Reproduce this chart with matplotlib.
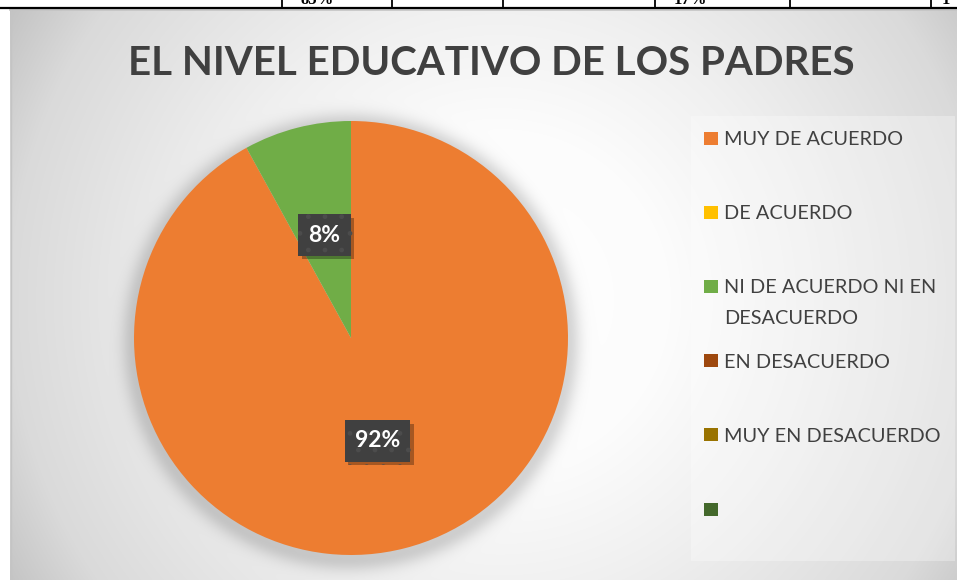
import numpy as np
import matplotlib
matplotlib.use("Agg")
import matplotlib.pyplot as plt
from matplotlib.patches import Rectangle
import matplotlib.patheffects as pe

# ---------------- data ----------------
title = "EL NIVEL EDUCATIVO DE LOS PADRES"
categories = ["MUY DE ACUERDO", "DE ACUERDO", "NI DE ACUERDO NI EN\nDESACUERDO",
              "EN DESACUERDO", "MUY EN DESACUERDO", ""]
values = [92, 0, 8, 0, 0, 0]
colors = ["#ED7D31", "#FFC000", "#70AD47", "#9E480E", "#997300", "#43682B"]
table_fragments = ["85%", "17%", "1"]

# ---------------- figure ----------------
W, H = 957, 580
fig = plt.figure(figsize=(W / 100, H / 100), dpi=100)
fig.patch.set_facecolor("white")

bg = fig.add_axes([0, 0, 1, 1])
bg.set_xlim(0, W)
bg.set_ylim(H, 0)
bg.axis("off")

# chart area background: radial gradient + soft pie shadow
x0, y0 = 10, 9
yy, xx = np.mgrid[y0:H, x0:W] + 0.5
cx, cy = 500, 300
d = np.hypot(xx - cx, yy - cy) / np.hypot(490, 291)
val = np.interp(d, [0, 0.3, 0.52, 0.86, 1.0, 1.3], [255, 252, 240, 218, 195, 190])
pcx, pcy, pr = 351, 338, 217
ds = np.hypot(xx - pcx, yy - (pcy + 4))
sh = np.where(ds > pr, np.exp(-((ds - pr) / 13.0) ** 2), 1.0)
val = val * (1 - 0.16 * sh)
rgb = np.clip(np.dstack([val] * 3) / 255.0, 0, 1)
bg.imshow(rgb, extent=(x0, W, H, y0), interpolation="bilinear", aspect="auto", zorder=0)
bg.set_xlim(0, W)
bg.set_ylim(H, 0)
bg.plot([x0, W], [y0 + 1, y0 + 1], color="#c4c4c4", lw=1.2, zorder=1)
bg.plot([x0 + 0.5, x0 + 0.5], [y0, H], color="#c4c4c4", lw=1.0, zorder=1)

# fragment of the table above
bg.plot([0, W], [8, 8], color="black", lw=1.6, zorder=2, solid_capstyle="butt")
for xv in [282, 392, 503, 655, 790, 931]:
    bg.plot([xv, xv], [0, 8], color="black", lw=1.3, zorder=2, solid_capstyle="butt")
for txt, xt in zip(table_fragments, [317, 690, 946]):
    bg.text(xt, 4.5, txt, ha="center", va="baseline", fontsize=12, fontweight="bold",
            family="Liberation Serif", color="black", zorder=2)

# title
bg.text(491.5, 75, title, ha="center", va="baseline", fontsize=29, fontweight="bold",
        family="Lato", color="#404040", zorder=3)

# legend (manual, Excel style)
bg.add_patch(Rectangle((691, 116), 264, 445, fc="white", alpha=0.3, ec="none", zorder=2))
for i, (lab, col) in enumerate(zip(categories, colors)):
    yc = 138 + i * 74.2
    bg.add_patch(Rectangle((704, yc - 6.5), 14, 13, fc=col, ec="none", zorder=3))
    for k, line in enumerate(lab.split("\n")):
        bg.text(724, yc + 7.0 + k * 31, line, ha="left", va="baseline", fontsize=14.3,
                family="Lato", color="#404040", zorder=3)

# pie
ax = fig.add_axes([(pcx - pr) / W, (H - pcy - pr) / H, 2 * pr / W, 2 * pr / H])
wedges, _ = ax.pie(values, colors=colors, startangle=90, counterclock=False, radius=1,
                   wedgeprops=dict(linewidth=0))
ax.set_xlim(-1, 1)
ax.set_ylim(-1, 1)
ax.patch.set_alpha(0)

total = sum(values)
for w, v in zip(wedges, values):
    if v <= 0:
        continue
    ang = np.deg2rad((w.theta1 + w.theta2) / 2)
    r = 0.49
    t = ax.text(r * np.cos(ang), r * np.sin(ang), f"{v / total * 100:.0f}%",
                ha="center", va="center", fontsize=16.5, fontweight="bold", family="Lato",
                color="white",
                bbox=dict(boxstyle="square,pad=0.45", fc="#404040", ec="#4c4c4c",
                          lw=0, hatch="."), zorder=5)
    t.get_bbox_patch().set_path_effects([
        pe.SimplePatchShadow(offset=(2.5, -2.5), shadow_rgbFace="black", alpha=0.3),
        pe.Normal()])

fig.savefig("out.png", dpi=100)
